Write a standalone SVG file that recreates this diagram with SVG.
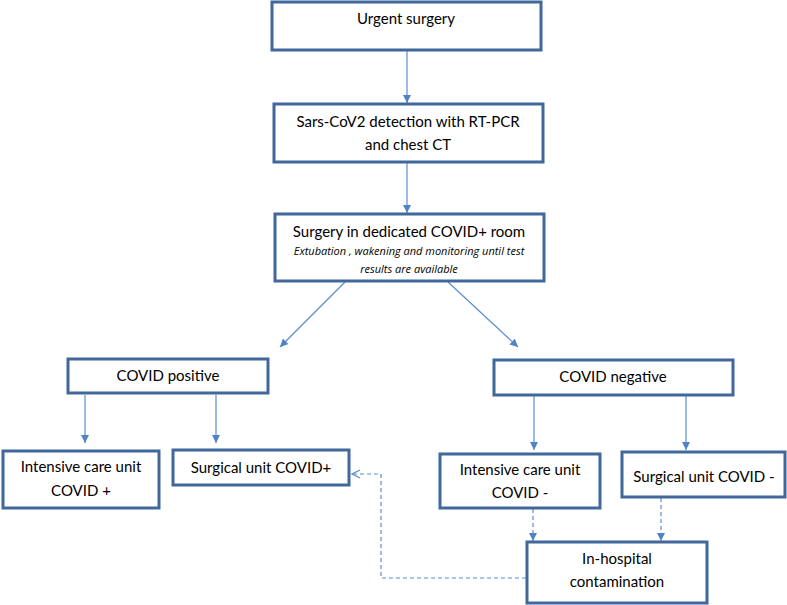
<svg xmlns="http://www.w3.org/2000/svg" width="787" height="605" viewBox="0 0 787 605">
<defs>
<style>
.box{fill:#fff;stroke:#41679b;stroke-width:3}
.t{font-family:Lato,"Liberation Sans",sans-serif;font-size:15px;fill:#000;text-anchor:middle}
.i{font-family:"Open Sans","Liberation Sans",sans-serif;font-size:11px;font-style:italic;fill:#000;text-anchor:middle}
.c{fill:none;stroke:#5b8ed0;stroke-width:1.2}
.d{fill:none;stroke:#5b8ed0;stroke-width:1.2;stroke-dasharray:4 3}
</style>
<marker id="ah" viewBox="0 0 10 10" refX="10" refY="5" markerWidth="8" markerHeight="8" markerUnits="userSpaceOnUse" orient="auto">
<path d="M0,0 L10,5 L0,10 z" fill="#4f82c6"/>
</marker>
<marker id="oh" viewBox="0 0 10 10" refX="10" refY="5" markerWidth="10" markerHeight="10" markerUnits="userSpaceOnUse" orient="auto">
<path d="M1,1 L9,5 L1,9" fill="none" stroke="#5b8ed0" stroke-width="1.2"/>
</marker>
</defs>
<rect width="787" height="605" fill="#fff"/>
<g id="connectors">
<line class="c" x1="407" y1="51" x2="407" y2="103" marker-end="url(#ah)"/>
<line class="c" x1="407" y1="163" x2="407" y2="213" marker-end="url(#ah)"/>
<line class="c" x1="345" y1="282" x2="280" y2="347" marker-end="url(#ah)"/>
<line class="c" x1="448" y1="282" x2="518" y2="347" marker-end="url(#ah)"/>
<line class="c" x1="85" y1="395" x2="85" y2="443" marker-end="url(#ah)"/>
<line class="c" x1="216" y1="395" x2="216" y2="443" marker-end="url(#ah)"/>
<line class="c" x1="534" y1="396" x2="534" y2="450" marker-end="url(#ah)"/>
<line class="c" x1="686" y1="396" x2="686" y2="450" marker-end="url(#ah)"/>
<line class="d" x1="533" y1="509" x2="533" y2="541" marker-end="url(#ah)"/>
<line class="d" x1="661" y1="498" x2="661" y2="541" marker-end="url(#ah)"/>
<polyline class="d" points="526,578 381,578 381,474 351,474" marker-end="url(#oh)"/>
</g>
<g id="urgent">
<rect class="box" x="272" y="2" width="269" height="48"/>
<text class="t" x="406" y="24">Urgent surgery</text>
</g>
<g id="detection">
<rect class="box" x="274" y="104" width="269" height="58"/>
<text class="t" x="408" y="127">Sars-CoV2 detection with RT-PCR</text>
<text class="t" x="408" y="150">and chest CT</text>
</g>
<g id="surgery">
<rect class="box" x="275" y="214" width="269" height="67"/>
<text class="t" x="409" y="237">Surgery in dedicated COVID+ room</text>
<text class="i" x="409" y="255">Extubation , wakening and monitoring until test</text>
<text class="i" x="409" y="273">results are available</text>
</g>
<g id="positive">
<rect class="box" x="68" y="359" width="200" height="34"/>
<text class="t" x="168" y="381">COVID positive</text>
</g>
<g id="negative">
<rect class="box" x="494" y="360" width="239" height="35"/>
<text class="t" x="613" y="382">COVID negative</text>
</g>
<g id="icu-pos">
<rect class="box" x="3" y="451" width="156" height="57"/>
<text class="t" x="81" y="472">Intensive care unit</text>
<text class="t" x="81" y="496">COVID +</text>
</g>
<g id="surg-pos">
<rect class="box" x="173" y="450" width="176" height="35"/>
<text class="t" x="261" y="473">Surgical unit COVID+</text>
</g>
<g id="icu-neg">
<rect class="box" x="440" y="454" width="160" height="54"/>
<text class="t" x="520" y="475">Intensive care unit</text>
<text class="t" x="520" y="498">COVID -</text>
</g>
<g id="surg-neg">
<rect class="box" x="622" y="452" width="163" height="45"/>
<text class="t" x="704" y="482">Surgical unit COVID -</text>
</g>
<g id="contamination">
<rect class="box" x="527" y="542" width="180" height="61"/>
<text class="t" x="617" y="564">In-hospital</text>
<text class="t" x="617" y="587">contamination</text>
</g>
</svg>
